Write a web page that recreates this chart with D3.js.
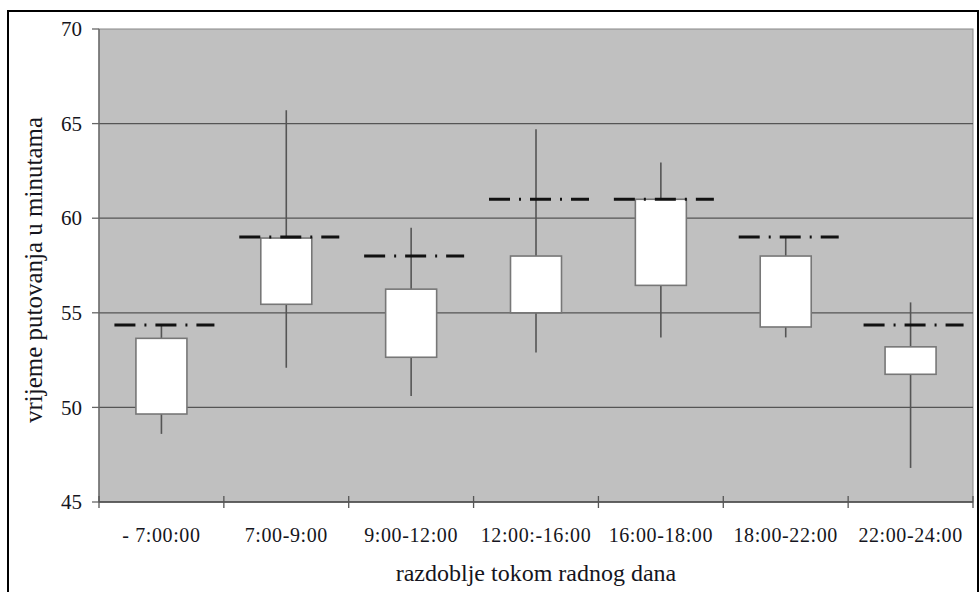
<!DOCTYPE html>
<html lang="en">
<head>
  <meta charset="UTF-8">
  <title>Vrijeme putovanja</title>
  <script src="https://d3js.org/d3.v7.min.js"></script>
  <style>
    body { margin: 0; background: #fff; }
  </style>
</head>
<body>
  <div id="chart"></div>
  <script>
    // razdoblja (kategorije na x osi)
    const categories = ["- 7:00:00", "7:00-9:00", "9:00-12:00", "12:00:-16:00", "16:00-18:00", "18:00-22:00", "22:00-24:00"];
    // vrijednosti ocitane sa slike (minute)
    const whiskerLow  = [48.6, 52.1, 50.6, 52.9, 53.7, 53.7, 46.8];
    const boxLow      = [49.65, 55.45, 52.65, 55.0, 56.45, 54.25, 51.75];
    const boxHigh     = [53.65, 58.95, 56.25, 58.0, 61.0, 58.0, 53.2];
    const whiskerHigh = [54.4, 65.7, 59.5, 64.7, 62.95, 59.0, 55.55];
    const refLine     = [54.35, 59.0, 58.0, 61.0, 61.0, 59.0, 54.35];
    const yTicks = [45, 50, 55, 60, 65, 70];

    const width = 980, height = 592;
    const margin = { top: 29, right: 7, bottom: 90, left: 99 };
    const font = "'Liberation Serif', 'Times New Roman', 'DejaVu Serif', serif";

    const svg = d3.select("#chart").append("svg").attr("width", width).attr("height", height)
      .attr("font-family", font);

    // okvir oko cijele slike
    svg.append("rect").attr("x", 8).attr("y", 11).attr("width", 970).attr("height", 600)
      .attr("fill", "none").attr("stroke", "#000").attr("stroke-width", 2);

    const x = d3.scaleBand().domain(categories).range([margin.left, width - margin.right]);
    const y = d3.scaleLinear().domain([45, 70]).range([height - margin.bottom, margin.top]);

    const data = categories.map((c, i) => ({
      cat: c, wl: whiskerLow[i], bl: boxLow[i], bh: boxHigh[i], wh: whiskerHigh[i], ref: refLine[i]
    }));

    svg.append("rect")
      .attr("x", margin.left).attr("y", margin.top)
      .attr("width", width - margin.right - margin.left).attr("height", y(45) - y(70))
      .attr("fill", "#c0c0c0").attr("stroke", "#888").attr("stroke-width", 1);

    // mreza
    svg.append("g").selectAll("line").data(yTicks.slice(1, -1)).join("line")
      .attr("x1", margin.left).attr("x2", width - margin.right)
      .attr("y1", d => y(d)).attr("y2", d => y(d))
      .attr("stroke", "#555").attr("stroke-width", 1.3);

    const cx = d => x(d.cat) + x.bandwidth() / 2;
    const boxW = 51;

    // brkovi
    svg.append("g").selectAll("line").data(data).join("line")
      .attr("x1", cx).attr("x2", cx)
      .attr("y1", d => y(d.wh)).attr("y2", d => y(d.wl))
      .attr("stroke", "#555").attr("stroke-width", 1.6);

    // kutije
    svg.append("g").selectAll("rect").data(data).join("rect")
      .attr("x", d => cx(d) - boxW / 2).attr("width", boxW)
      .attr("y", d => y(d.bh)).attr("height", d => y(d.bl) - y(d.bh))
      .attr("fill", "#fff").attr("stroke", "#777").attr("stroke-width", 1.6);

    // crta-tocka linije
    svg.append("g").selectAll("line").data(data).join("line")
      .attr("x1", d => cx(d) - 47).attr("x2", d => cx(d) + 53)
      .attr("y1", d => y(d.ref)).attr("y2", d => y(d.ref))
      .attr("stroke", "#111").attr("stroke-width", 3)
      .attr("stroke-dasharray", "21,9,2,9");

    // y os
    const yAxis = svg.append("g");
    yAxis.append("line").attr("x1", margin.left).attr("x2", margin.left)
      .attr("y1", y(70)).attr("y2", y(45)).attr("stroke", "#666").attr("stroke-width", 1.3);
    yAxis.selectAll("line.tick").data(yTicks).join("line").attr("class", "tick")
      .attr("x1", margin.left - 7).attr("x2", margin.left)
      .attr("y1", d => y(d)).attr("y2", d => y(d)).attr("stroke", "#666").attr("stroke-width", 1.3);
    yAxis.selectAll("text").data(yTicks).join("text")
      .attr("x", 82).attr("y", d => y(d)).attr("dy", "0.34em")
      .attr("text-anchor", "end").attr("fill", "#151520").style("font-size", "21px").text(d => d);

    // x os
    const xAxis = svg.append("g");
    const bounds = categories.map(c => x(c)).concat([width - margin.right]);
    xAxis.append("line").attr("x1", margin.left).attr("x2", width - margin.right)
      .attr("y1", y(45)).attr("y2", y(45)).attr("stroke", "#444").attr("stroke-width", 1.5);
    xAxis.selectAll("line.tick").data(bounds).join("line").attr("class", "tick")
      .attr("x1", d => d).attr("x2", d => d)
      .attr("y1", y(45) - 6).attr("y2", y(45) + 6).attr("stroke", "#555").attr("stroke-width", 1.3);
    xAxis.selectAll("text").data(categories).join("text")
      .attr("x", d => x(d) + x.bandwidth() / 2).attr("y", 542)
      .attr("text-anchor", "middle").attr("fill", "#151520")
      .style("font-size", "20px").style("letter-spacing", "0.6px")
      .text(d => d);

    // naslovi osi
    svg.append("text").attr("x", (margin.left + width - margin.right) / 2).attr("y", 581)
      .attr("text-anchor", "middle").attr("fill", "#151520").style("font-size", "24px")
      .text("razdoblje tokom radnog dana");
    svg.append("text")
      .attr("transform", "translate(42,270) rotate(-90)")
      .attr("text-anchor", "middle").attr("fill", "#151520").style("font-size", "25px")
      .text("vrijeme putovanja u minutama");
  </script>
</body>
</html>
